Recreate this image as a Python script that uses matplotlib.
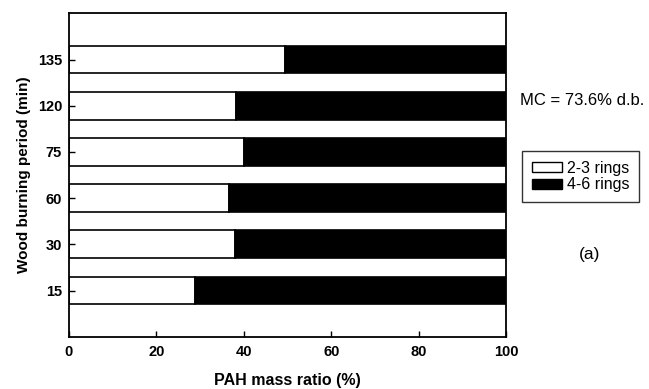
import matplotlib
matplotlib.use("Agg")
import matplotlib.pyplot as plt
from matplotlib.patches import Patch

plt.rcParams["font.family"] = ["Liberation Sans", "DejaVu Sans"]

# burning period (min), bottom to top
periods = ["15", "30", "60", "75", "120", "135"]
# share of 2-3 ring PAHs (%), the rest is 4-6 rings
rings_2_3 = [28.9, 37.9, 36.6, 40.0, 38.2, 49.4]
rings_4_6 = [100 - v for v in rings_2_3]

fig = plt.figure(figsize=(6.49, 3.89), dpi=100)
ax = fig.add_axes([0.1063, 0.1344, 0.6741, 0.8314])

pos = list(range(len(periods)))
ax.barh(pos, rings_2_3, height=0.6, color="white", edgecolor="black", linewidth=1.2)
ax.barh(pos, rings_4_6, left=rings_2_3, height=0.6, color="black",
        edgecolor="black", linewidth=1.2)

ax.set_xlim(0, 100)
ax.set_ylim(-1, len(periods))
ax.set_xticks([0, 20, 40, 60, 80, 100])
ax.set_yticks(pos)
ax.set_yticklabels(periods)
ax.tick_params(direction="in", length=4, width=1, top=False, right=False,
               labelsize=10.5, pad=6)
ax.tick_params(axis="y", pad=5)
for lab in ax.get_xticklabels() + ax.get_yticklabels():
    lab.set_fontweight("bold")
for sp in ax.spines.values():
    sp.set_linewidth(1.3)

ax.set_xlabel("PAH mass ratio (%)", fontsize=11.5, fontweight="bold", labelpad=10)
ax.set_ylabel("Wood burning period (min)", fontsize=11, fontweight="bold", labelpad=5)

fig.text(0.802, 0.741, "MC = 73.6% d.b.", fontsize=12, va="center", ha="left")
fig.text(0.909, 0.345, "(a)", fontsize=12.5, va="center", ha="center")

handles = [Patch(facecolor="white", edgecolor="black", label="2-3 rings"),
           Patch(facecolor="black", edgecolor="black", label="4-6 rings")]
leg = fig.legend(handles=handles, loc="upper left", bbox_to_anchor=(0.805, 0.612),
                 fontsize=11.5, frameon=True, fancybox=False, handlelength=1.9,
                 handleheight=0.55, labelspacing=0.12, handletextpad=0.3,
                 borderpad=0.6, borderaxespad=0, edgecolor="black")
leg.get_frame().set_linewidth(1.0)

fig.savefig("out.png", dpi=100)
